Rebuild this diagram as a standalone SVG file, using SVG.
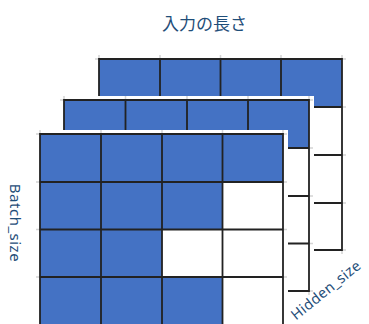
<svg xmlns="http://www.w3.org/2000/svg" width="369" height="324" viewBox="0 0 369 324">
<style>
.b{fill:#4472C4}
.w{fill:#FFFFFF}
.g{stroke:#222222;stroke-width:1.8;fill:none;stroke-linecap:square}
.t{stroke:#D4D4D4;stroke-width:1.5;fill:none}
.lbl{font-family:"Noto Sans","Open Sans","Noto Sans CJK JP",sans-serif;fill:#1F4E79}
</style>
<rect width="369" height="324" fill="#FFFFFF"/>

<g id="layer-back">
  <path class="t" d="M99 55V59M160 55V59M220.5 55V59M281 55V59M342 55V59M95 59H99M342 59H346M342 107H346M342 155H346M342 203H346M342 250H346M342 250V254"/>
  <rect class="b" x="99" y="59" width="243" height="48"/>
  <rect class="w" x="99" y="107" width="243" height="143"/>
  <path class="g" d="M99 59H342V250H99ZM160 59V250M220.5 59V250M281 59V250M99 107H342M99 155H342M99 203H342"/>
</g>

<g id="layer-middle">
  <rect class="w" x="60" y="96" width="254" height="199"/>
  <path class="t" d="M64 96V100M125.5 96V100M187 96V100M248 96V100M309 96V100M60 100H64M309 100H313M309 148H313M309 196H313M309 243.5H313M309 291H313M309 291V295"/>
  <rect class="b" x="64" y="100" width="245" height="48"/>
  <rect class="w" x="64" y="148" width="245" height="143"/>
  <path class="g" d="M64 100H309V291H64ZM125.5 100V291M187 100V291M248 100V291M64 148H309M64 196H309M64 243.5H309"/>
</g>

<g id="layer-front">
  <rect class="w" x="36" y="130" width="252" height="200"/>
  <path class="t" d="M40 130V134M101 130V134M162 130V134M222.5 130V134M283 130V134M36 134H40M283 134H287M36 182H40M283 182H287M36 229.5H40M283 229.5H287M36 277H40M283 277H287"/>
  <rect class="b" x="40" y="134" width="243" height="47.5"/>
  <rect class="b" x="40" y="182" width="182.5" height="47.5"/>
  <rect class="w" x="222.5" y="182" width="60.5" height="47.5"/>
  <rect class="b" x="40" y="229.5" width="122" height="47.5"/>
  <rect class="w" x="162" y="229.5" width="121" height="47.5"/>
  <rect class="b" x="40" y="277" width="182.5" height="50"/>
  <rect class="w" x="222.5" y="277" width="60.5" height="50"/>
  <path class="g" d="M40 134H283V326M40 134V326M101 134V326M162 134V326M222.5 134V326M40 182H283M40 229.5H283M40 277H283"/>
</g>

<g id="label-length">
  <text class="lbl" x="204.5" y="30" font-size="17" text-anchor="middle">入力の長さ</text>
</g>
<g id="label-batch">
  <text class="lbl" x="0" y="0" font-size="15" letter-spacing="0.5" text-anchor="middle" transform="translate(9.5 223) rotate(90)">Batch_size</text>
</g>
<g id="label-hidden">
  <text class="lbl" x="0" y="0" font-size="14.5" letter-spacing="0.3" text-anchor="middle" transform="translate(329 294) rotate(-39)">Hidden_size</text>
</g>
</svg>
